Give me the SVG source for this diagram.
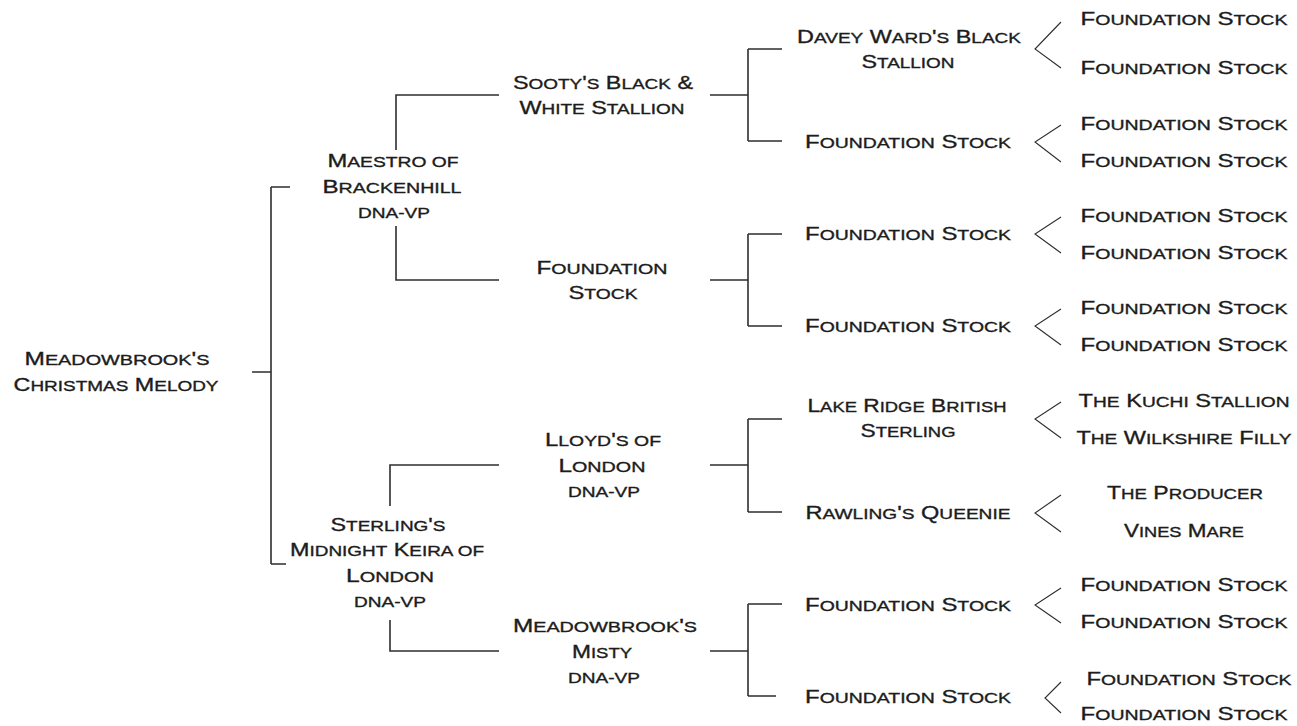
<svg xmlns="http://www.w3.org/2000/svg" width="1297" height="726" viewBox="0 0 1297 726">
<style>
.t{font-family:"Liberation Sans",Arial,sans-serif;font-size:18.5px;fill:#1c1c1c;stroke:#1c1c1c;stroke-width:0.35;text-anchor:middle}
.s{font-size:15px;text-transform:uppercase}
.c{stroke:#2e2e2e;stroke-width:1.6;fill:none}
.v{stroke:#2e2e2e;stroke-width:1.1;fill:none}
</style>
<rect width="1297" height="726" fill="#ffffff"/>
<g id="connectors">
<path class="c" d="M252 372H271M271 187V564M271 187H290M271 564H286"/>
<path class="c" d="M396 150V95H499M396 226V280H499"/>
<path class="c" d="M390 506V465H499M390 620V651H499"/>
<path class="c" d="M710 95H748M748 49V141M748 49H782M748 141H782"/>
<path class="c" d="M710 280H748M748 234V326M748 234H782M748 326H782"/>
<path class="c" d="M710 465H748M748 419V512M748 419H782M748 512H782"/>
<path class="c" d="M710 651H748M748 604V696M748 604H782M748 696H776"/>
<path class="v" d="M1061 22L1035 49L1061 68"/>
<path class="v" d="M1061 125L1035 142L1061 162"/>
<path class="v" d="M1061 217L1035 234L1061 253"/>
<path class="v" d="M1061 309L1035 326L1061 345"/>
<path class="v" d="M1061 402L1035 419L1061 438"/>
<path class="v" d="M1061 495L1035 513L1061 532"/>
<path class="v" d="M1061 588L1035 605L1061 623"/>
<path class="v" d="M1061 682L1045 698L1061 713"/>
</g>
<g id="n-root">
<text class="t" x="117" y="365" textLength="185" lengthAdjust="spacingAndGlyphs">M<tspan class="s">eadowbrook</tspan>'<tspan class="s">s</tspan></text>
<text class="t" x="116" y="391" textLength="205" lengthAdjust="spacingAndGlyphs">C<tspan class="s">hristmas</tspan> M<tspan class="s">elody</tspan></text>
</g>
<g id="n-maestro">
<text class="t" x="393" y="167" textLength="131" lengthAdjust="spacingAndGlyphs">M<tspan class="s">aestro of</tspan></text>
<text class="t" x="392" y="193" textLength="139" lengthAdjust="spacingAndGlyphs">B<tspan class="s">rackenhill</tspan></text>
<text class="t" x="394" y="218" textLength="72" lengthAdjust="spacingAndGlyphs"><tspan class="s">dna-vp</tspan></text>
</g>
<g id="n-sterlings">
<text class="t" x="388" y="531" textLength="115" lengthAdjust="spacingAndGlyphs">S<tspan class="s">terling</tspan>'<tspan class="s">s</tspan></text>
<text class="t" x="387" y="556" textLength="194" lengthAdjust="spacingAndGlyphs">M<tspan class="s">idnight</tspan> K<tspan class="s">eira of</tspan></text>
<text class="t" x="390" y="582" textLength="88" lengthAdjust="spacingAndGlyphs">L<tspan class="s">ondon</tspan></text>
<text class="t" x="390" y="607" textLength="72" lengthAdjust="spacingAndGlyphs"><tspan class="s">dna-vp</tspan></text>
</g>
<g id="n-sooty">
<text class="t" x="603" y="89" textLength="180" lengthAdjust="spacingAndGlyphs">S<tspan class="s">ooty</tspan>'<tspan class="s">s</tspan> B<tspan class="s">lack</tspan> &amp;</text>
<text class="t" x="602" y="114" textLength="165" lengthAdjust="spacingAndGlyphs">W<tspan class="s">hite</tspan> S<tspan class="s">tallion</tspan></text>
</g>
<g id="n-foundation-2a">
<text class="t" x="602" y="274" textLength="131" lengthAdjust="spacingAndGlyphs">F<tspan class="s">oundation</tspan></text>
<text class="t" x="603" y="299" textLength="69" lengthAdjust="spacingAndGlyphs">S<tspan class="s">tock</tspan></text>
</g>
<g id="n-lloyds">
<text class="t" x="603" y="446" textLength="116" lengthAdjust="spacingAndGlyphs">L<tspan class="s">loyd</tspan>'<tspan class="s">s of</tspan></text>
<text class="t" x="602" y="472" textLength="87" lengthAdjust="spacingAndGlyphs">L<tspan class="s">ondon</tspan></text>
<text class="t" x="604" y="497" textLength="72" lengthAdjust="spacingAndGlyphs"><tspan class="s">dna-vp</tspan></text>
</g>
<g id="n-misty">
<text class="t" x="605" y="632" textLength="184" lengthAdjust="spacingAndGlyphs">M<tspan class="s">eadowbrook</tspan>'<tspan class="s">s</tspan></text>
<text class="t" x="602" y="658" textLength="60" lengthAdjust="spacingAndGlyphs">M<tspan class="s">isty</tspan></text>
<text class="t" x="604" y="683" textLength="72" lengthAdjust="spacingAndGlyphs"><tspan class="s">dna-vp</tspan></text>
</g>
<g id="n-davey">
<text class="t" x="909" y="43" textLength="224" lengthAdjust="spacingAndGlyphs">D<tspan class="s">avey</tspan> W<tspan class="s">ard</tspan>'<tspan class="s">s</tspan> B<tspan class="s">lack</tspan></text>
<text class="t" x="908" y="68" textLength="93" lengthAdjust="spacingAndGlyphs">S<tspan class="s">tallion</tspan></text>
</g>
<g id="n-fs-3a"><text class="t" x="908" y="148" textLength="206" lengthAdjust="spacingAndGlyphs">F<tspan class="s">oundation</tspan> S<tspan class="s">tock</tspan></text></g>
<g id="n-fs-3b"><text class="t" x="908" y="240" textLength="206" lengthAdjust="spacingAndGlyphs">F<tspan class="s">oundation</tspan> S<tspan class="s">tock</tspan></text></g>
<g id="n-fs-3c"><text class="t" x="908" y="332" textLength="206" lengthAdjust="spacingAndGlyphs">F<tspan class="s">oundation</tspan> S<tspan class="s">tock</tspan></text></g>
<g id="n-lakeridge">
<text class="t" x="907" y="412" textLength="199" lengthAdjust="spacingAndGlyphs">L<tspan class="s">ake</tspan> R<tspan class="s">idge</tspan> B<tspan class="s">ritish</tspan></text>
<text class="t" x="908" y="437" textLength="95" lengthAdjust="spacingAndGlyphs">S<tspan class="s">terling</tspan></text>
</g>
<g id="n-rawling"><text class="t" x="908" y="519" textLength="205" lengthAdjust="spacingAndGlyphs">R<tspan class="s">awling</tspan>'<tspan class="s">s</tspan> Q<tspan class="s">ueenie</tspan></text></g>
<g id="n-fs-3d"><text class="t" x="908" y="611" textLength="206" lengthAdjust="spacingAndGlyphs">F<tspan class="s">oundation</tspan> S<tspan class="s">tock</tspan></text></g>
<g id="n-fs-3e"><text class="t" x="908" y="703" textLength="206" lengthAdjust="spacingAndGlyphs">F<tspan class="s">oundation</tspan> S<tspan class="s">tock</tspan></text></g>
<g id="n-fs-4a"><text class="t" x="1184" y="25" textLength="207" lengthAdjust="spacingAndGlyphs">F<tspan class="s">oundation</tspan> S<tspan class="s">tock</tspan></text></g>
<g id="n-fs-4b"><text class="t" x="1184" y="74" textLength="207" lengthAdjust="spacingAndGlyphs">F<tspan class="s">oundation</tspan> S<tspan class="s">tock</tspan></text></g>
<g id="n-fs-4c"><text class="t" x="1184" y="130" textLength="207" lengthAdjust="spacingAndGlyphs">F<tspan class="s">oundation</tspan> S<tspan class="s">tock</tspan></text></g>
<g id="n-fs-4d"><text class="t" x="1184" y="167" textLength="207" lengthAdjust="spacingAndGlyphs">F<tspan class="s">oundation</tspan> S<tspan class="s">tock</tspan></text></g>
<g id="n-fs-4e"><text class="t" x="1184" y="222" textLength="207" lengthAdjust="spacingAndGlyphs">F<tspan class="s">oundation</tspan> S<tspan class="s">tock</tspan></text></g>
<g id="n-fs-4f"><text class="t" x="1184" y="259" textLength="207" lengthAdjust="spacingAndGlyphs">F<tspan class="s">oundation</tspan> S<tspan class="s">tock</tspan></text></g>
<g id="n-fs-4g"><text class="t" x="1184" y="314" textLength="207" lengthAdjust="spacingAndGlyphs">F<tspan class="s">oundation</tspan> S<tspan class="s">tock</tspan></text></g>
<g id="n-fs-4h"><text class="t" x="1184" y="351" textLength="207" lengthAdjust="spacingAndGlyphs">F<tspan class="s">oundation</tspan> S<tspan class="s">tock</tspan></text></g>
<g id="n-kuchi"><text class="t" x="1184" y="407" textLength="211" lengthAdjust="spacingAndGlyphs">T<tspan class="s">he</tspan> K<tspan class="s">uchi</tspan> S<tspan class="s">tallion</tspan></text></g>
<g id="n-wilkshire"><text class="t" x="1184" y="444" textLength="215" lengthAdjust="spacingAndGlyphs">T<tspan class="s">he</tspan> W<tspan class="s">ilkshire</tspan> F<tspan class="s">illy</tspan></text></g>
<g id="n-producer"><text class="t" x="1185" y="499" textLength="156" lengthAdjust="spacingAndGlyphs">T<tspan class="s">he</tspan> P<tspan class="s">roducer</tspan></text></g>
<g id="n-vines"><text class="t" x="1184" y="537" textLength="120" lengthAdjust="spacingAndGlyphs">V<tspan class="s">ines</tspan> M<tspan class="s">are</tspan></text></g>
<g id="n-fs-4i"><text class="t" x="1184" y="591" textLength="207" lengthAdjust="spacingAndGlyphs">F<tspan class="s">oundation</tspan> S<tspan class="s">tock</tspan></text></g>
<g id="n-fs-4j"><text class="t" x="1184" y="628" textLength="207" lengthAdjust="spacingAndGlyphs">F<tspan class="s">oundation</tspan> S<tspan class="s">tock</tspan></text></g>
<g id="n-fs-4k"><text class="t" x="1189" y="685" textLength="205" lengthAdjust="spacingAndGlyphs">F<tspan class="s">oundation</tspan> S<tspan class="s">tock</tspan></text></g>
<g id="n-fs-4l"><text class="t" x="1184" y="720" textLength="207" lengthAdjust="spacingAndGlyphs">F<tspan class="s">oundation</tspan> S<tspan class="s">tock</tspan></text></g>
</svg>
